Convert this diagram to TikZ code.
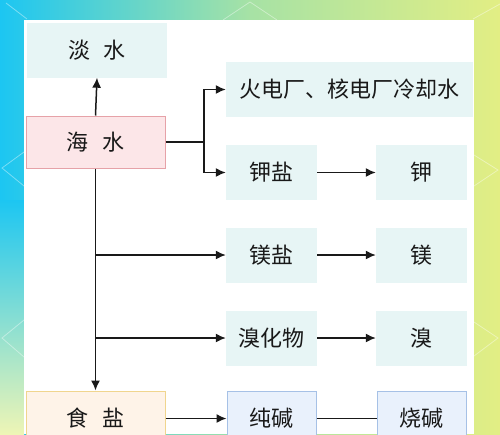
\documentclass[tikz,border=0pt]{standalone}
\usepackage{fontspec}
\newfontfamily\cjk{Noto Sans CJK SC}
\usetikzlibrary{arrows.meta}
\definecolor{bgcyan}{HTML}{1CC6F2}
\definecolor{bglime}{HTML}{E2EE84}
\definecolor{tealfill}{HTML}{E7F5F5}
\definecolor{pinkfill}{HTML}{FCE6E8}
\definecolor{pinkline}{HTML}{E6A2A8}
\definecolor{saltfill}{HTML}{FEF3E8}
\definecolor{saltline}{HTML}{F0D58E}
\definecolor{sodafill}{HTML}{E9F1FC}
\definecolor{sodaline}{HTML}{A6C1E6}
\tikzset{
	box/.style = {align=center, inner sep=0pt, text centered, text=black!90, font=\cjk\fontsize{22}{26}\selectfont},
	plain/.style = {box, fill=tealfill, minimum height=55pt},
	sea/.style = {box, fill=pinkfill, draw=pinkline, line width=1pt, minimum width=139pt, minimum height=52pt},
	salt/.style = {box, fill=saltfill, draw=saltline, line width=1pt, minimum width=139pt, minimum height=55pt},
	soda/.style = {box, fill=sodafill, draw=sodaline, line width=1pt, minimum width=89pt, minimum height=55pt},
	link/.style = {line width=1.5pt, black!90},
	arr/.style = {link, -{Latex[length=10pt,width=9pt]}},
	deco/.style = {white, opacity=0.4, line width=0.8pt}
}
\newcommand{\gap}{\hspace{0.6em}}

\begin{document}
\begin{tikzpicture}[x=1pt, y=-1pt]
		% background and panel
		\useasboundingbox (0,0) rectangle (500,434);
		\shade[left color=bgcyan, right color=bglime, middle color=bglime!70!bgcyan] (0,0) rectangle (500,434);
		\shade[top color=bgcyan, bottom color=bglime!60!white] (0,200) rectangle (24,434);
		\draw[deco] (223,20) -- (250,2) -- (277,20);
		\draw[deco] (6,3) -- (27,19);
		\draw[deco] (473,19) -- (500,4);
		\draw[deco] (24,152) -- (2,168) -- (24,186);
		\draw[deco] (24,320) -- (2,338) -- (24,357);
		\draw[deco] (474,155) -- (498,170) -- (474,186);
		\draw[deco] (474,322) -- (498,338) -- (474,356);
		\fill[white] (24,20) rectangle (474,434);

		% left column
		\node [plain, minimum width=140pt] (dan) at (97,50) {淡\gap 水};
		\node [sea] (hai) at (95.5,142) {海\gap 水};
		\node [salt] (shi) at (95.5,418.5) {食\gap 盐};

		% middle column
		\node [plain, minimum width=247pt] (huo) at (349.5,89.5) {火电厂、核电厂冷却水};
		\node [plain, minimum width=91pt] (jiayan) at (271.5,172.5) {钾盐};
		\node [plain, minimum width=91pt] (meiyan) at (271.5,255) {镁盐};
		\node [plain, minimum width=91pt] (xiuhua) at (271.5,338) {溴化物};
		\node [soda] (chun) at (271.5,418.5) {纯碱};

		% right column
		\node [plain, minimum width=91pt] (jia) at (421.5,172.5) {钾};
		\node [plain, minimum width=91pt] (mei) at (421.5,255) {镁};
		\node [plain, minimum width=91pt] (xiu) at (421.5,338) {溴};
		\node [soda] (shao) at (421.5,418.5) {烧碱};

		% connectors
		\coordinate (fork) at (204,142);
		\draw [arr] (hai.north) -- (dan.south);
		\draw [link] (hai.east) -- (fork);
		\draw [arr] (fork) |- (huo.west);
		\draw [arr] (fork) |- (jiayan.west);
		\draw [arr] (hai.south) -- (shi.north);
		\draw [arr] (hai.south |- meiyan.west) -- (meiyan.west);
		\draw [arr] (hai.south |- xiuhua.west) -- (xiuhua.west);
		\draw [arr] (jiayan) -- (jia);
		\draw [arr] (meiyan) -- (mei);
		\draw [arr] (xiuhua) -- (xiu);
		\draw [arr] (shi) -- (chun);
		\draw [link] (chun) -- (shao);
\end{tikzpicture}
\end{document}
